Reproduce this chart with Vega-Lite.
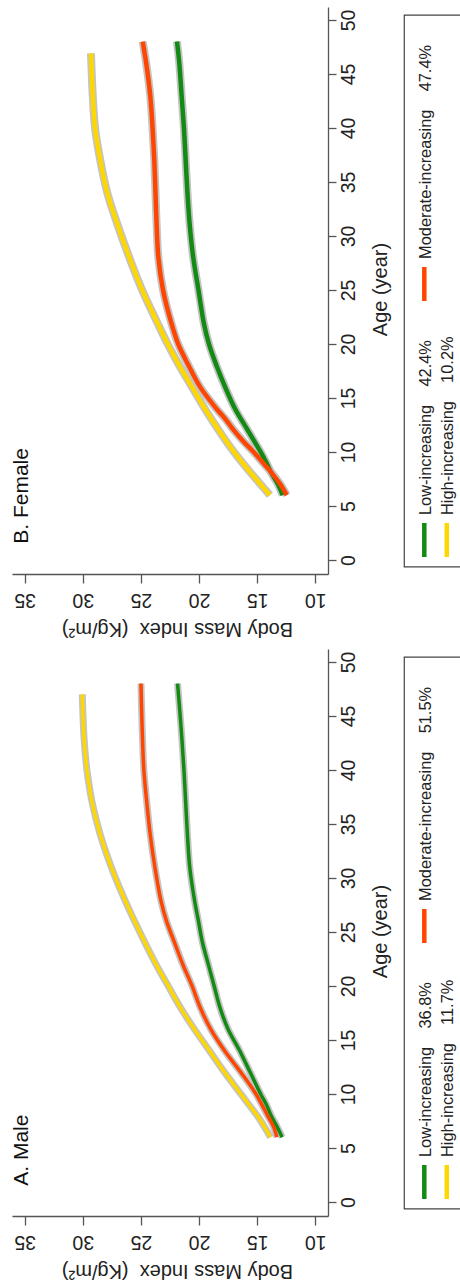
{
  "$schema": "https://vega.github.io/schema/vega-lite/v6.json",
  "padding": {"left": 10, "top": 7, "right": 0, "bottom": 8},
  "background": "white",
  "config": {
    "font": "Liberation Sans",
    "view": {"stroke": null},
    "axis": {
      "grid": false,
      "domainColor": "#555555",
      "tickColor": "#555555",
      "domainWidth": 1.3,
      "tickWidth": 1.3,
      "labelColor": "#222222",
      "titleColor": "#222222",
      "labelFont": "Liberation Sans",
      "titleFont": "Liberation Sans",
      "labelFontSize": 19.5,
      "titleFontSize": 20,
      "titleFontWeight": "normal"
    }
  },
  "datasets": {
    "curves": [
      {"sex": "Female", "group": "Low-increasing", "age": 6, "bmi": 12.8},
      {"sex": "Female", "group": "Low-increasing", "age": 7, "bmi": 13.2},
      {"sex": "Female", "group": "Low-increasing", "age": 8, "bmi": 13.75},
      {"sex": "Female", "group": "Low-increasing", "age": 9, "bmi": 14.2},
      {"sex": "Female", "group": "Low-increasing", "age": 10, "bmi": 14.7},
      {"sex": "Female", "group": "Low-increasing", "age": 12, "bmi": 15.8},
      {"sex": "Female", "group": "Low-increasing", "age": 14, "bmi": 16.9},
      {"sex": "Female", "group": "Low-increasing", "age": 16, "bmi": 17.75},
      {"sex": "Female", "group": "Low-increasing", "age": 18, "bmi": 18.5},
      {"sex": "Female", "group": "Low-increasing", "age": 20, "bmi": 19.15},
      {"sex": "Female", "group": "Low-increasing", "age": 22, "bmi": 19.6},
      {"sex": "Female", "group": "Low-increasing", "age": 25, "bmi": 20.05},
      {"sex": "Female", "group": "Low-increasing", "age": 28, "bmi": 20.5},
      {"sex": "Female", "group": "Low-increasing", "age": 31, "bmi": 20.8},
      {"sex": "Female", "group": "Low-increasing", "age": 34, "bmi": 21.0},
      {"sex": "Female", "group": "Low-increasing", "age": 37, "bmi": 21.15},
      {"sex": "Female", "group": "Low-increasing", "age": 40, "bmi": 21.3},
      {"sex": "Female", "group": "Low-increasing", "age": 43, "bmi": 21.5},
      {"sex": "Female", "group": "Low-increasing", "age": 46, "bmi": 21.7},
      {"sex": "Female", "group": "Low-increasing", "age": 48, "bmi": 21.9},
      {"sex": "Female", "group": "Moderate-increasing", "age": 6, "bmi": 12.45},
      {"sex": "Female", "group": "Moderate-increasing", "age": 7, "bmi": 13.0},
      {"sex": "Female", "group": "Moderate-increasing", "age": 8, "bmi": 13.7},
      {"sex": "Female", "group": "Moderate-increasing", "age": 9, "bmi": 14.5},
      {"sex": "Female", "group": "Moderate-increasing", "age": 10, "bmi": 15.3},
      {"sex": "Female", "group": "Moderate-increasing", "age": 11, "bmi": 16.2},
      {"sex": "Female", "group": "Moderate-increasing", "age": 12, "bmi": 17.0},
      {"sex": "Female", "group": "Moderate-increasing", "age": 13, "bmi": 17.7},
      {"sex": "Female", "group": "Moderate-increasing", "age": 14, "bmi": 18.5},
      {"sex": "Female", "group": "Moderate-increasing", "age": 16, "bmi": 19.9},
      {"sex": "Female", "group": "Moderate-increasing", "age": 18, "bmi": 20.9},
      {"sex": "Female", "group": "Moderate-increasing", "age": 20, "bmi": 21.8},
      {"sex": "Female", "group": "Moderate-increasing", "age": 22, "bmi": 22.4},
      {"sex": "Female", "group": "Moderate-increasing", "age": 25, "bmi": 23.1},
      {"sex": "Female", "group": "Moderate-increasing", "age": 28, "bmi": 23.5},
      {"sex": "Female", "group": "Moderate-increasing", "age": 31, "bmi": 23.65},
      {"sex": "Female", "group": "Moderate-increasing", "age": 34, "bmi": 23.75},
      {"sex": "Female", "group": "Moderate-increasing", "age": 37, "bmi": 23.85},
      {"sex": "Female", "group": "Moderate-increasing", "age": 40, "bmi": 24.0},
      {"sex": "Female", "group": "Moderate-increasing", "age": 43, "bmi": 24.2},
      {"sex": "Female", "group": "Moderate-increasing", "age": 46, "bmi": 24.55},
      {"sex": "Female", "group": "Moderate-increasing", "age": 48, "bmi": 24.85},
      {"sex": "Female", "group": "High-increasing", "age": 6, "bmi": 13.9},
      {"sex": "Female", "group": "High-increasing", "age": 7, "bmi": 14.7},
      {"sex": "Female", "group": "High-increasing", "age": 8, "bmi": 15.5},
      {"sex": "Female", "group": "High-increasing", "age": 10, "bmi": 17.0},
      {"sex": "Female", "group": "High-increasing", "age": 12, "bmi": 18.3},
      {"sex": "Female", "group": "High-increasing", "age": 14, "bmi": 19.5},
      {"sex": "Female", "group": "High-increasing", "age": 16, "bmi": 20.6},
      {"sex": "Female", "group": "High-increasing", "age": 18, "bmi": 21.7},
      {"sex": "Female", "group": "High-increasing", "age": 20, "bmi": 22.7},
      {"sex": "Female", "group": "High-increasing", "age": 22, "bmi": 23.6},
      {"sex": "Female", "group": "High-increasing", "age": 25, "bmi": 24.9},
      {"sex": "Female", "group": "High-increasing", "age": 28, "bmi": 26.0},
      {"sex": "Female", "group": "High-increasing", "age": 31, "bmi": 27.0},
      {"sex": "Female", "group": "High-increasing", "age": 34, "bmi": 27.9},
      {"sex": "Female", "group": "High-increasing", "age": 37, "bmi": 28.5},
      {"sex": "Female", "group": "High-increasing", "age": 40, "bmi": 28.95},
      {"sex": "Female", "group": "High-increasing", "age": 43, "bmi": 29.15},
      {"sex": "Female", "group": "High-increasing", "age": 46.9, "bmi": 29.3},
      {"sex": "Male", "group": "Low-increasing", "age": 6, "bmi": 12.85},
      {"sex": "Male", "group": "Low-increasing", "age": 7, "bmi": 13.3},
      {"sex": "Male", "group": "Low-increasing", "age": 8, "bmi": 13.8},
      {"sex": "Male", "group": "Low-increasing", "age": 9, "bmi": 14.2},
      {"sex": "Male", "group": "Low-increasing", "age": 10, "bmi": 14.7},
      {"sex": "Male", "group": "Low-increasing", "age": 12, "bmi": 15.6},
      {"sex": "Male", "group": "Low-increasing", "age": 14, "bmi": 16.5},
      {"sex": "Male", "group": "Low-increasing", "age": 16, "bmi": 17.5},
      {"sex": "Male", "group": "Low-increasing", "age": 18, "bmi": 18.2},
      {"sex": "Male", "group": "Low-increasing", "age": 20, "bmi": 18.7},
      {"sex": "Male", "group": "Low-increasing", "age": 22, "bmi": 19.2},
      {"sex": "Male", "group": "Low-increasing", "age": 24, "bmi": 19.7},
      {"sex": "Male", "group": "Low-increasing", "age": 26, "bmi": 20.05},
      {"sex": "Male", "group": "Low-increasing", "age": 28, "bmi": 20.4},
      {"sex": "Male", "group": "Low-increasing", "age": 31, "bmi": 20.8},
      {"sex": "Male", "group": "Low-increasing", "age": 34, "bmi": 21.0},
      {"sex": "Male", "group": "Low-increasing", "age": 37, "bmi": 21.15},
      {"sex": "Male", "group": "Low-increasing", "age": 40, "bmi": 21.3},
      {"sex": "Male", "group": "Low-increasing", "age": 44, "bmi": 21.55},
      {"sex": "Male", "group": "Low-increasing", "age": 48, "bmi": 21.85},
      {"sex": "Male", "group": "Moderate-increasing", "age": 6, "bmi": 13.3},
      {"sex": "Male", "group": "Moderate-increasing", "age": 7, "bmi": 13.6},
      {"sex": "Male", "group": "Moderate-increasing", "age": 8, "bmi": 14.1},
      {"sex": "Male", "group": "Moderate-increasing", "age": 10, "bmi": 15.1},
      {"sex": "Male", "group": "Moderate-increasing", "age": 12, "bmi": 16.4},
      {"sex": "Male", "group": "Moderate-increasing", "age": 14, "bmi": 17.8},
      {"sex": "Male", "group": "Moderate-increasing", "age": 16, "bmi": 19.0},
      {"sex": "Male", "group": "Moderate-increasing", "age": 18, "bmi": 19.9},
      {"sex": "Male", "group": "Moderate-increasing", "age": 20, "bmi": 20.6},
      {"sex": "Male", "group": "Moderate-increasing", "age": 22, "bmi": 21.4},
      {"sex": "Male", "group": "Moderate-increasing", "age": 24, "bmi": 22.1},
      {"sex": "Male", "group": "Moderate-increasing", "age": 26, "bmi": 22.8},
      {"sex": "Male", "group": "Moderate-increasing", "age": 28, "bmi": 23.3},
      {"sex": "Male", "group": "Moderate-increasing", "age": 31, "bmi": 23.8},
      {"sex": "Male", "group": "Moderate-increasing", "age": 34, "bmi": 24.2},
      {"sex": "Male", "group": "Moderate-increasing", "age": 37, "bmi": 24.5},
      {"sex": "Male", "group": "Moderate-increasing", "age": 40, "bmi": 24.75},
      {"sex": "Male", "group": "Moderate-increasing", "age": 44, "bmi": 24.9},
      {"sex": "Male", "group": "Moderate-increasing", "age": 48, "bmi": 25.0},
      {"sex": "Male", "group": "High-increasing", "age": 6, "bmi": 13.85},
      {"sex": "Male", "group": "High-increasing", "age": 7, "bmi": 14.4},
      {"sex": "Male", "group": "High-increasing", "age": 8, "bmi": 15.0},
      {"sex": "Male", "group": "High-increasing", "age": 9, "bmi": 15.7},
      {"sex": "Male", "group": "High-increasing", "age": 10, "bmi": 16.4},
      {"sex": "Male", "group": "High-increasing", "age": 12, "bmi": 17.8},
      {"sex": "Male", "group": "High-increasing", "age": 14, "bmi": 19.1},
      {"sex": "Male", "group": "High-increasing", "age": 16, "bmi": 20.4},
      {"sex": "Male", "group": "High-increasing", "age": 18, "bmi": 21.6},
      {"sex": "Male", "group": "High-increasing", "age": 20, "bmi": 22.65},
      {"sex": "Male", "group": "High-increasing", "age": 22, "bmi": 23.7},
      {"sex": "Male", "group": "High-increasing", "age": 25, "bmi": 25.1},
      {"sex": "Male", "group": "High-increasing", "age": 28, "bmi": 26.4},
      {"sex": "Male", "group": "High-increasing", "age": 31, "bmi": 27.55},
      {"sex": "Male", "group": "High-increasing", "age": 34, "bmi": 28.5},
      {"sex": "Male", "group": "High-increasing", "age": 37, "bmi": 29.2},
      {"sex": "Male", "group": "High-increasing", "age": 40, "bmi": 29.65},
      {"sex": "Male", "group": "High-increasing", "age": 43, "bmi": 29.9},
      {"sex": "Male", "group": "High-increasing", "age": 47, "bmi": 30.05}
    ],
    "legend": [
      {"sex": "Female", "group": "Low-increasing", "pct": "42.4%", "col": 1, "slot": 1},
      {"sex": "Female", "group": "Moderate-increasing", "pct": "47.4%", "col": 1, "slot": 2},
      {"sex": "Female", "group": "High-increasing", "pct": "10.2%", "col": 2, "slot": 1},
      {"sex": "Male", "group": "Low-increasing", "pct": "36.8%", "col": 1, "slot": 1},
      {"sex": "Male", "group": "Moderate-increasing", "pct": "51.5%", "col": 1, "slot": 2},
      {"sex": "Male", "group": "High-increasing", "pct": "11.7%", "col": 2, "slot": 1}
    ],
    "panels": [
      {"sex": "Female", "label": "B. Female"},
      {"sex": "Male", "label": "A. Male"}
    ]
  },
  "spacing": 11,
  "vconcat": [
    {
      "width": 316,
      "height": 567,
      "resolve": {"scale": {"x": "independent", "y": "independent"}},
      "layer": [
        {
          "layer": [
            {
              "data": {"name": "curves"},
              "transform": [{"filter": "datum.sex == 'Female'"}],
              "mark": {"type": "line", "color": "#c4c4c4", "strokeWidth": 8, "interpolate": "catmull-rom", "strokeCap": "butt"},
              "encoding": {
                "x": {"field": "bmi", "type": "quantitative",
                  "scale": {"domain": [8.9, 36.1], "reverse": true, "nice": false, "zero": false},
                  "axis": {"values": [10, 15, 20, 25, 30, 35], "tickSize": 9, "labelAngle": 180, "labelAlign": "center", "labelBaseline": "middle", "labelPadding": 16,
                    "title": "Body Mass Index\u00a0\u00a0(Kg/m²)", "titleAngle": 180, "titleAlign": "center", "titleBaseline": "middle", "titleX": 165, "titleY": 54}},
                "y": {"field": "age", "type": "quantitative",
                  "scale": {"domain": [-1.3, 51.2], "nice": false, "zero": false},
                  "axis": {"orient": "right", "values": [0, 5, 10, 15, 20, 25, 30, 35, 40, 45, 50], "tickSize": 8, "labelAngle": 270, "labelAlign": "center", "labelBaseline": "middle", "labelPadding": 12,
                    "title": "Age (year)", "titleAngle": 270, "titleAlign": "center", "titleBaseline": "middle", "titleX": 52, "titleY": 282}},
                "detail": {"field": "group"},
                "order": {"field": "age", "type": "quantitative"}
              }
            },
            {
              "data": {"name": "curves"},
              "transform": [{"filter": "datum.sex == 'Female'"}],
              "mark": {"type": "line", "strokeWidth": 4.5, "interpolate": "catmull-rom", "strokeCap": "butt"},
              "encoding": {
                "x": {"field": "bmi", "type": "quantitative", "scale": {"domain": [8.9, 36.1], "reverse": true, "nice": false, "zero": false}},
                "y": {"field": "age", "type": "quantitative", "scale": {"domain": [-1.3, 51.2], "nice": false, "zero": false}},
                "color": {"field": "group", "type": "nominal", "scale": {"domain": ["Low-increasing", "Moderate-increasing", "High-increasing"], "range": ["#138a13", "#ff4500", "#ffd700"]}, "legend": null},
                "order": {"field": "age", "type": "quantitative"}
              }
            },
            {
              "data": {"name": "panels"},
              "transform": [{"filter": "datum.sex == 'Female'"}],
              "mark": {"type": "text", "angle": 270, "align": "left", "baseline": "middle", "fontSize": 21, "fill": "#111111"},
              "encoding": {
                "x": {"datum": 35.25, "type": "quantitative", "scale": {"domain": [8.9, 36.1], "reverse": true, "nice": false, "zero": false}},
                "y": {"datum": 1.5, "type": "quantitative", "scale": {"domain": [-1.3, 51.2], "nice": false, "zero": false}},
                "text": {"field": "label", "type": "nominal"}
              }
            }
          ]
        },
        {
          "layer": [
            {
              "data": {"name": "panels"},
              "transform": [{"filter": "datum.sex == 'Female'"}],
              "mark": {"type": "rect", "fill": null, "stroke": "#444444", "strokeWidth": 1.2},
              "encoding": {
                "x": {"datum": 0.11, "type": "quantitative", "scale": {"domain": [1, 2], "range": [412.3, 434.8]}, "axis": null},
                "x2": {"datum": 3.2},
                "y": {"datum": 0.895, "type": "quantitative", "scale": {"domain": [1, 2], "range": [533, 277]}, "axis": null},
                "y2": {"datum": 3.05}
              }
            },
            {
              "data": {"name": "legend"},
              "transform": [{"filter": "datum.sex == 'Female'"}],
              "mark": {"type": "tick", "orient": "vertical", "size": 34, "thickness": 4.5, "opacity": 1},
              "encoding": {
                "x": {"field": "col", "type": "quantitative", "scale": {"domain": [1, 2], "range": [412.3, 434.8]}, "axis": null},
                "y": {"field": "slot", "type": "quantitative", "scale": {"domain": [1, 2], "range": [533, 277]}, "axis": null},
                "color": {"field": "group", "type": "nominal", "scale": {"domain": ["Low-increasing", "Moderate-increasing", "High-increasing"], "range": ["#138a13", "#ff4500", "#ffd700"]}, "legend": null}
              }
            },
            {
              "data": {"name": "legend"},
              "transform": [{"filter": "datum.sex == 'Female'"}, {"calculate": "datum.group + '\u00a0\u00a0\u00a0\u00a0' + datum.pct", "as": "label"}],
              "mark": {"type": "text", "angle": 270, "align": "left", "baseline": "middle", "yOffset": -25, "dy": 1.5, "fontSize": 16.4, "fill": "#222222"},
              "encoding": {
                "x": {"field": "col", "type": "quantitative", "scale": {"domain": [1, 2], "range": [412.3, 434.8]}, "axis": null},
                "y": {"field": "slot", "type": "quantitative", "scale": {"domain": [1, 2], "range": [533, 277]}, "axis": null},
                "text": {"field": "label"}
              }
            }
          ]
        }
      ]
    },
    {
      "width": 316,
      "height": 567,
      "resolve": {"scale": {"x": "independent", "y": "independent"}},
      "layer": [
        {
          "layer": [
            {
              "data": {"name": "curves"},
              "transform": [{"filter": "datum.sex == 'Male'"}],
              "mark": {"type": "line", "color": "#c4c4c4", "strokeWidth": 7, "interpolate": "catmull-rom", "strokeCap": "butt"},
              "encoding": {
                "x": {"field": "bmi", "type": "quantitative",
                  "scale": {"domain": [8.9, 36.1], "reverse": true, "nice": false, "zero": false},
                  "axis": {"values": [10, 15, 20, 25, 30, 35], "tickSize": 9, "labelAngle": 180, "labelAlign": "center", "labelBaseline": "middle", "labelPadding": 16,
                    "title": "Body Mass Index\u00a0\u00a0(Kg/m²)", "titleAngle": 180, "titleAlign": "center", "titleBaseline": "middle", "titleX": 165, "titleY": 54}},
                "y": {"field": "age", "type": "quantitative",
                  "scale": {"domain": [-1.3, 51.2], "nice": false, "zero": false},
                  "axis": {"orient": "right", "values": [0, 5, 10, 15, 20, 25, 30, 35, 40, 45, 50], "tickSize": 8, "labelAngle": 270, "labelAlign": "center", "labelBaseline": "middle", "labelPadding": 12,
                    "title": "Age (year)", "titleAngle": 270, "titleAlign": "center", "titleBaseline": "middle", "titleX": 52, "titleY": 282}},
                "detail": {"field": "group"},
                "order": {"field": "age", "type": "quantitative"}
              }
            },
            {
              "data": {"name": "curves"},
              "transform": [{"filter": "datum.sex == 'Male'"}],
              "mark": {"type": "line", "strokeWidth": 3.5, "interpolate": "catmull-rom", "strokeCap": "butt"},
              "encoding": {
                "x": {"field": "bmi", "type": "quantitative", "scale": {"domain": [8.9, 36.1], "reverse": true, "nice": false, "zero": false}},
                "y": {"field": "age", "type": "quantitative", "scale": {"domain": [-1.3, 51.2], "nice": false, "zero": false}},
                "color": {"field": "group", "type": "nominal", "scale": {"domain": ["Low-increasing", "Moderate-increasing", "High-increasing"], "range": ["#138a13", "#ff4500", "#ffd700"]}, "legend": null},
                "order": {"field": "age", "type": "quantitative"}
              }
            },
            {
              "data": {"name": "panels"},
              "transform": [{"filter": "datum.sex == 'Male'"}],
              "mark": {"type": "text", "angle": 270, "align": "left", "baseline": "middle", "fontSize": 21, "fill": "#111111"},
              "encoding": {
                "x": {"datum": 35.25, "type": "quantitative", "scale": {"domain": [8.9, 36.1], "reverse": true, "nice": false, "zero": false}},
                "y": {"datum": 1.5, "type": "quantitative", "scale": {"domain": [-1.3, 51.2], "nice": false, "zero": false}},
                "text": {"field": "label", "type": "nominal"}
              }
            }
          ]
        },
        {
          "layer": [
            {
              "data": {"name": "panels"},
              "transform": [{"filter": "datum.sex == 'Male'"}],
              "mark": {"type": "rect", "fill": null, "stroke": "#444444", "strokeWidth": 1.2},
              "encoding": {
                "x": {"datum": 0.11, "type": "quantitative", "scale": {"domain": [1, 2], "range": [412.3, 434.8]}, "axis": null},
                "x2": {"datum": 3.2},
                "y": {"datum": 0.895, "type": "quantitative", "scale": {"domain": [1, 2], "range": [533, 277]}, "axis": null},
                "y2": {"datum": 3.05}
              }
            },
            {
              "data": {"name": "legend"},
              "transform": [{"filter": "datum.sex == 'Male'"}],
              "mark": {"type": "tick", "orient": "vertical", "size": 34, "thickness": 4.5, "opacity": 1},
              "encoding": {
                "x": {"field": "col", "type": "quantitative", "scale": {"domain": [1, 2], "range": [412.3, 434.8]}, "axis": null},
                "y": {"field": "slot", "type": "quantitative", "scale": {"domain": [1, 2], "range": [533, 277]}, "axis": null},
                "color": {"field": "group", "type": "nominal", "scale": {"domain": ["Low-increasing", "Moderate-increasing", "High-increasing"], "range": ["#138a13", "#ff4500", "#ffd700"]}, "legend": null}
              }
            },
            {
              "data": {"name": "legend"},
              "transform": [{"filter": "datum.sex == 'Male'"}, {"calculate": "datum.group + '\u00a0\u00a0\u00a0\u00a0' + datum.pct", "as": "label"}],
              "mark": {"type": "text", "angle": 270, "align": "left", "baseline": "middle", "yOffset": -25, "dy": 1.5, "fontSize": 16.4, "fill": "#222222"},
              "encoding": {
                "x": {"field": "col", "type": "quantitative", "scale": {"domain": [1, 2], "range": [412.3, 434.8]}, "axis": null},
                "y": {"field": "slot", "type": "quantitative", "scale": {"domain": [1, 2], "range": [533, 277]}, "axis": null},
                "text": {"field": "label"}
              }
            }
          ]
        }
      ]
    }
  ]
}
